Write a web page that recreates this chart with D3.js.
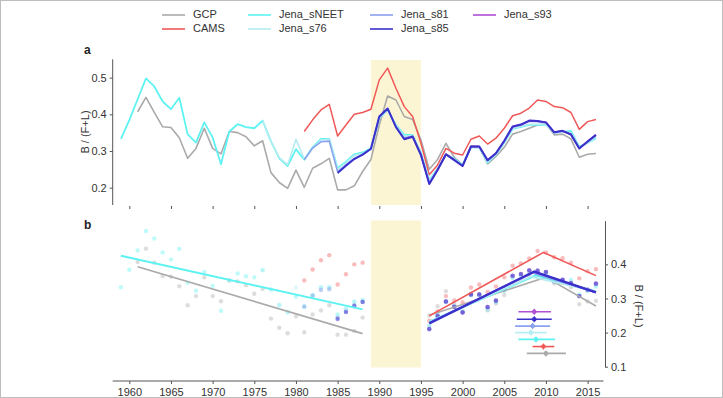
<!DOCTYPE html>
<html><head><meta charset="utf-8">
<script src="https://cdn.jsdelivr.net/npm/d3@7"></script>
<style>
html,body{margin:0;padding:0;background:#fff;}
svg{display:block;font-family:"Liberation Sans",Arial,Helvetica,sans-serif;}
</style></head>
<body><svg id="c" width="723" height="398"></svg>
<script>
// ---------- DATA ----------
const seriesNames = ["GCP","CAMS","Jena_sNEET","Jena_s76","Jena_s81","Jena_s85","Jena_s93"];
const seriesColors = ["#aaaaaa","#f05858","#5ef2f2","#b4ecf0","#8aa2ee","#3a30cc","#b04ed4"];

const gcpStart = 1961;
const gcpValues = [0.407,0.446,0.405,0.366,0.364,0.336,0.280,0.307,0.362,0.307,
  0.292,0.353,0.350,0.339,0.314,0.328,0.241,0.214,0.198,0.248,
  0.201,0.253,0.265,0.280,0.194,0.194,0.205,0.244,0.277,0.371,
  0.450,0.439,0.394,0.386,0.330,0.250,0.277,0.321,0.283,0.262,
  0.314,0.312,0.265,0.285,0.310,0.346,0.353,0.362,0.371,0.374,
  0.344,0.346,0.333,0.283,0.291,0.293];

const camsStart = 1981;
const camsValues = [0.353,0.385,0.412,0.427,0.341,0.371,0.400,0.405,0.414,0.494,
  0.526,0.471,0.421,0.394,0.321,0.235,0.262,0.307,0.294,0.289,
  0.332,0.341,0.319,0.335,0.362,0.396,0.403,0.417,0.439,0.435,
  0.421,0.418,0.405,0.359,0.380,0.386];

const sneetStart = 1959;
const sneetValues = [0.333,0.384,0.441,0.498,0.476,0.435,0.414,0.445,0.346,0.323,
  0.378,0.337,0.264,0.353,0.373,0.365,0.362,0.383,0.326,0.280,
  0.259,0.305,0.276,0.310,0.333,0.333,0.253,0.271,0.291,0.296,
  0.307,0.389,0.412,0.371,0.344,0.344,0.295,0.221,0.252,0.290,
  0.279,0.262,0.310,0.310,0.268,0.290,0.322,0.360,0.366,0.371,
  0.371,0.372,0.350,0.352,0.355,0.312,0.322,0.335];

const s76Start = 1976;
const s76Values = [0.383,0.326,0.282,0.262,0.332,0.278,0.308,0.330,0.332,0.250,
  0.268,0.288,0.293,0.305,0.390,0.413,0.370,0.340,0.342,0.292,
  0.218,0.250,0.289,0.277,0.260,0.309,0.309,0.270,0.290,0.323,
  0.362,0.367,0.373,0.373,0.373,0.349,0.351,0.350,0.310,0.322,0.338];

const s81Start = 1981;
const s81Values = [0.276,0.308,0.325,0.327,0.243,0.262,0.280,0.290,0.305,0.392,
  0.414,0.367,0.335,0.340,0.290,0.212,0.250,0.291,0.276,0.260,
  0.311,0.311,0.274,0.292,0.326,0.365,0.370,0.381,0.380,0.377,
  0.350,0.354,0.346,0.307,0.325,0.342];

const s85Start = 1985;
const s85Values = [0.240,0.260,0.278,0.290,0.306,0.394,0.416,0.365,0.332,0.339,
  0.289,0.210,0.248,0.291,0.275,0.259,0.312,0.312,0.275,0.294,
  0.328,0.367,0.372,0.383,0.382,0.378,0.351,0.355,0.345,0.307,
  0.326,0.344];

const s93Start = 1993;
const s93Values = [0.333,0.340,0.290,0.211,0.249,0.291,0.276,0.259,0.312,0.312,
  0.275,0.294,0.327,0.366,0.372,0.382,0.381,0.378,0.351,0.355,
  0.345,0.307,0.326,0.344];

// trend lines, panel b (early period)
const earlyFitNames = ["GCP","Jena_sNEET"];
const earlyFitYears = [[1961,1988],[1959,1988]];
const earlyFitValues = [[0.393,0.197],[0.425,0.268]];

// trend lines, panel b (late period, piecewise with breakpoint)
const lateFitNames = ["GCP","Jena_sNEET","Jena_s76","Jena_s81","CAMS","Jena_s93","Jena_s85"];
const lateFitYears = [[1996,2010.0,2016],[1996,2008.8,2016],[1996,2008.2,2016],[1996,2008.4,2016],[1996,2009.7,2016],[1996,2008.6,2016],[1996,2008.6,2016]];
const lateFitValues = [[0.251,0.362,0.278],[0.232,0.368,0.320],[0.230,0.364,0.320],[0.228,0.375,0.318],[0.249,0.435,0.367],[0.228,0.378,0.318],[0.227,0.379,0.318]];

// breakpoint estimates (centre and range), shown at stacked levels
const bpNames = ["Jena_s93","Jena_s85","Jena_s81","Jena_s76","Jena_sNEET","CAMS","GCP"];
const bpCentre = [2008.6,2008.6,2008.4,2008.2,2008.8,2009.7,2010.0];
const bpLow = [2006.7,2006.5,2006.3,2006.3,2006.7,2008.4,2007.7];
const bpHigh = [2010.6,2010.7,2010.5,2010.1,2011.1,2011.0,2012.4];
const bpLevel = [0.261,0.239,0.219,0.200,0.180,0.159,0.139];

const xTicks = [1960,1965,1970,1975,1980,1985,1990,1995,2000,2005,2010,2015];
const yTicksA = [0.2,0.3,0.4,0.5];
const yTicksB = [0.1,0.2,0.3,0.4];
const excluded = [1989,1995]; // shaded period

// ---------- BUILD ----------
function mk(start, vals){ return vals.map((v,i)=>({year:start+i, value:v})); }
const series = {
  "GCP": mk(gcpStart,gcpValues),
  "CAMS": mk(camsStart,camsValues),
  "Jena_sNEET": mk(sneetStart,sneetValues),
  "Jena_s76": mk(s76Start,s76Values),
  "Jena_s81": mk(s81Start,s81Values),
  "Jena_s85": mk(s85Start,s85Values),
  "Jena_s93": mk(s93Start,s93Values)
};
const color = d3.scaleOrdinal().domain(seriesNames).range(seriesColors);

const svg = d3.select("#c");
const x = d3.scaleLinear().domain([1960,2015]).range([129.3,587.6]);
const ya = d3.scaleLinear().domain([0.15,0.55]).range([206,59.3]);
const yb = d3.scaleLinear().domain([0.1,0.528]).range([366.7,220.7]);

// frame
svg.append("rect").attr("x",0.5).attr("y",0.5).attr("width",722).attr("height",397)
  .attr("fill","none").attr("stroke","#bdbdbd").attr("stroke-width",1);

// shaded bands
svg.append("rect").attr("x",x(excluded[0])).attr("width",x(excluded[1])-x(excluded[0]))
  .attr("y",60).attr("height",145).attr("fill","#fcf5d4");
svg.append("rect").attr("x",x(excluded[0])).attr("width",x(excluded[1])-x(excluded[0]))
  .attr("y",220.5).attr("height",147).attr("fill","#fcf5d4");

// ---------- PANEL A ----------
const ga = svg.append("g");
const axA = ga.append("g").attr("transform","translate(112.7,0)")
  .call(d3.axisLeft(ya).tickValues(yTicksA).tickFormat(d3.format(".1f")).tickSize(3).tickSizeOuter(0));
axA.select(".domain").attr("stroke","#555").attr("d","M0,59.3V205");
axA.selectAll(".tick line").attr("stroke","#555");
axA.selectAll("text").attr("font-size",11).attr("fill","#333").attr("font-family","Liberation Sans, Arial, sans-serif");

const axAb = ga.append("g").attr("transform","translate(0,206)")
  .call(d3.axisBottom(x).tickValues(xTicks).tickFormat("").tickSize(3));
axAb.select(".domain").remove();
axAb.selectAll(".tick line").attr("stroke","#555");

ga.append("text").attr("transform","translate(86,132) rotate(-90)").attr("text-anchor","middle")
  .attr("dominant-baseline","middle").attr("font-size",11).attr("fill","#333").text("B / (F+L)");
ga.append("text").attr("x",84).attr("y",54).attr("font-size",12).attr("font-weight","bold").attr("fill","#222").text("a");

const lineA = d3.line().x(d=>x(d.year)).y(d=>ya(d.value));
const drawOrderA = ["GCP","CAMS","Jena_sNEET","Jena_s76","Jena_s81","Jena_s93","Jena_s85"];
const widthA = {"GCP":1.6,"CAMS":1.5,"Jena_sNEET":1.8,"Jena_s76":1.6,"Jena_s81":1.6,"Jena_s85":2.0,"Jena_s93":1.6};
drawOrderA.forEach(n=>{
  ga.append("path").datum(series[n]).attr("d",lineA).attr("fill","none")
    .attr("stroke",color(n)).attr("stroke-width",widthA[n]).attr("stroke-linejoin","round");
});

// ---------- PANEL B ----------
const gb = svg.append("g");
const axBb = gb.append("g").attr("transform","translate(0,381)")
  .call(d3.axisBottom(x).tickValues(xTicks).tickSize(3).tickFormat(d3.format("d")));
axBb.select(".domain").attr("stroke","#555").attr("d","M112.7,0H603.5");
axBb.selectAll(".tick line").attr("stroke","#555");
axBb.selectAll("text").attr("font-size",11).attr("fill","#333").attr("font-family","Liberation Sans, Arial, sans-serif").attr("dy","0.85em");

const axBr = gb.append("g").attr("transform","translate(605,0)")
  .call(d3.axisRight(yb).tickValues(yTicksB).tickFormat(d3.format(".1f")).tickSize(3).tickSizeOuter(0));
axBr.select(".domain").attr("stroke","#555");
axBr.selectAll(".tick line").attr("stroke","#555");
axBr.selectAll("text").attr("font-size",11).attr("fill","#333").attr("font-family","Liberation Sans, Arial, sans-serif");

gb.append("text").attr("transform","translate(638,306) rotate(90)").attr("text-anchor","middle")
  .attr("dominant-baseline","middle").attr("font-size",11).attr("fill","#333").text("B / (F+L)");
gb.append("text").attr("x",84).attr("y",229).attr("font-size",12).attr("font-weight","bold").attr("fill","#222").text("b");

// scatter points
const pointOrder = ["GCP","CAMS","Jena_sNEET","Jena_s76","Jena_s81","Jena_s93","Jena_s85"];
pointOrder.forEach(n=>{
  gb.append("g").selectAll("circle")
    .data(series[n].filter(d=>d.year<excluded[0]||d.year>excluded[1]))
    .join("circle").attr("cx",d=>x(d.year)).attr("cy",d=>yb(d.value)).attr("r",2.2)
    .attr("fill",color(n)).attr("fill-opacity",(n==="Jena_s85"||n==="Jena_s81")?0.5:0.4);
});

// early fits
const lineB = d3.line().x(d=>d[0]).y(d=>d[1]);
earlyFitNames.forEach((n,i)=>{
  const pts = earlyFitYears[i].map((yr,j)=>[x(yr), yb(earlyFitValues[i][j])]);
  gb.append("path").attr("d",lineB(pts)).attr("fill","none").attr("stroke",color(n))
    .attr("stroke-width",n==="GCP"?1.6:2.0);
});
// late fits
const lateWidth = {"GCP":1.6,"Jena_sNEET":2.2,"Jena_s76":1.8,"Jena_s81":1.8,"CAMS":1.6,"Jena_s93":1.8,"Jena_s85":2.4};
lateFitNames.forEach((n,i)=>{
  const pts = lateFitYears[i].map((yr,j)=>[x(yr), yb(lateFitValues[i][j])]);
  gb.append("path").attr("d",lineB(pts)).attr("fill","none").attr("stroke",color(n))
    .attr("stroke-width",lateWidth[n]).attr("stroke-linejoin","round");
});
// breakpoint intervals
bpNames.forEach((n,i)=>{
  const g = gb.append("g");
  g.append("line").attr("x1",x(bpLow[i])).attr("x2",x(bpHigh[i]))
    .attr("y1",yb(bpLevel[i])).attr("y2",yb(bpLevel[i])).attr("stroke",color(n)).attr("stroke-width",1.6);
  g.append("line").attr("x1",x(bpCentre[i])).attr("x2",x(bpCentre[i]))
    .attr("y1",yb(bpLevel[i])-3).attr("y2",yb(bpLevel[i])+3).attr("stroke",color(n)).attr("stroke-width",1.2);
  g.append("circle").attr("cx",x(bpCentre[i])).attr("cy",yb(bpLevel[i])).attr("r",2.3).attr("fill",color(n));
});

// ---------- LEGEND ----------
const legendCols = [162,248,370,473];
const legendRows = [15,29];
const legendLayout = [["GCP",0,0],["CAMS",0,1],["Jena_sNEET",1,0],["Jena_s76",1,1],["Jena_s81",2,0],["Jena_s85",2,1],["Jena_s93",3,0]];
const lg = svg.append("g");
legendLayout.forEach(([n,c,r])=>{
  const lx = legendCols[c], ly = legendRows[r];
  lg.append("line").attr("x1",lx).attr("x2",lx+23).attr("y1",ly).attr("y2",ly)
    .attr("stroke",color(n)).attr("stroke-width",1.6);
  lg.append("text").attr("x",lx+31).attr("y",ly).attr("dominant-baseline","middle")
    .attr("font-size",11).attr("fill","#333").text(n);
});
</script></body></html>
